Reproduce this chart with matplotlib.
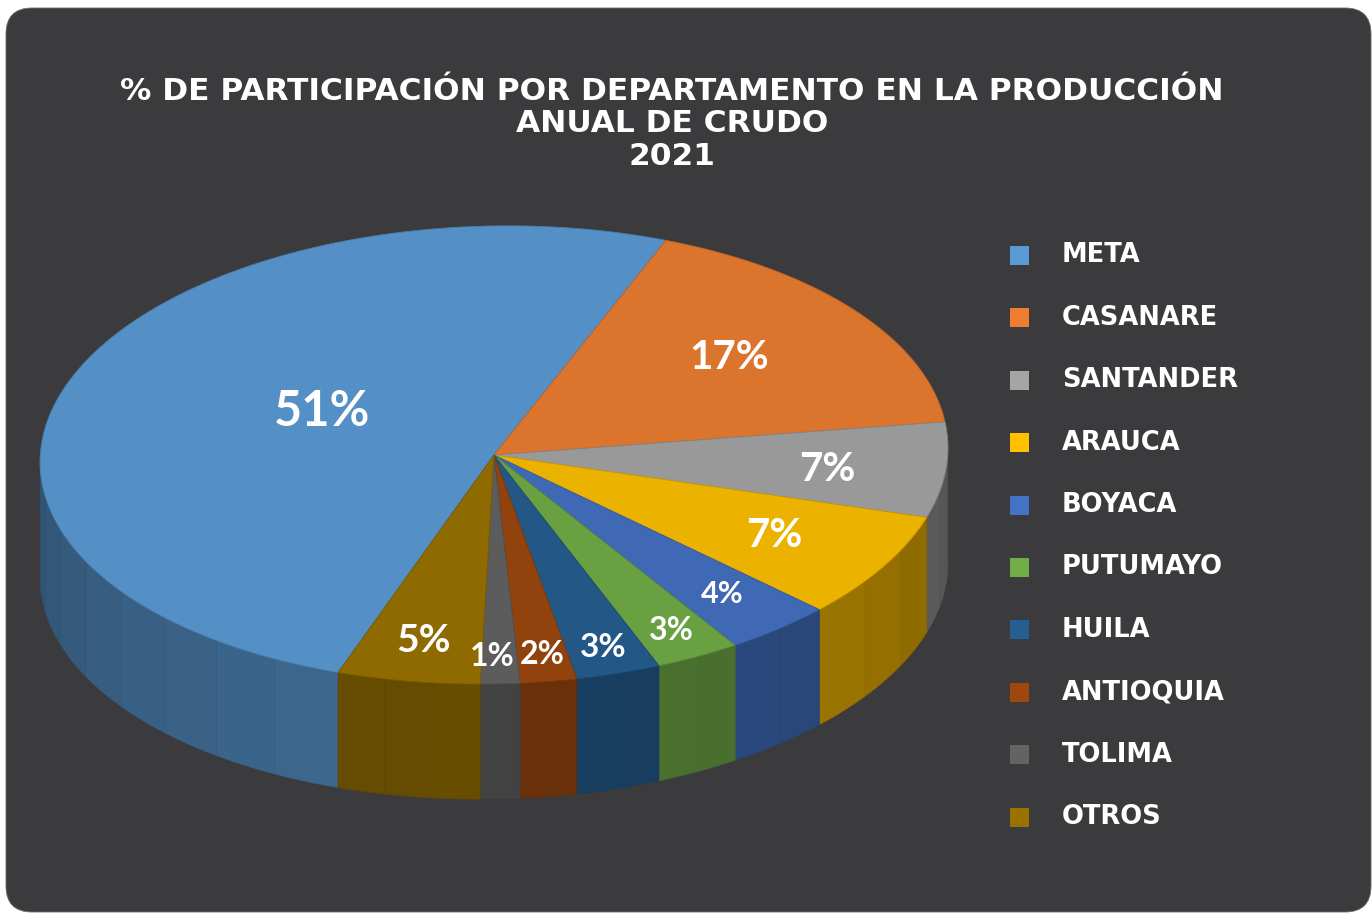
import numpy as np
import matplotlib.pyplot as plt
from matplotlib.patches import Polygon, FancyBboxPatch, Rectangle
from matplotlib.colors import to_rgb

# datos (participacion % por departamento, 2021)
departamentos = ["META", "CASANARE", "SANTANDER", "ARAUCA", "BOYACA",
                 "PUTUMAYO", "HUILA", "ANTIOQUIA", "TOLIMA", "OTROS"]
participacion = [50.6, 17.0, 6.7, 7.4, 3.8, 3.0, 3.0, 2.0, 1.4, 5.1]
colores = ["#5B9BD5", "#ED7D31", "#A5A5A5", "#FFC000", "#4472C4",
           "#70AD47", "#255E91", "#9E480E", "#636363", "#997300"]

titulo = "% DE PARTICIPACIÓN POR DEPARTAMENTO EN LA PRODUCCIÓN\nANUAL DE CRUDO\n2021"

# layout of the fake 3d pie (pixels)
cx, cy, rx, ry, depth = 494, 455, 454, 229, 115
tilt = np.radians(-1.2)
start = 249.3
label_r = [0.43, 0.66, 0.74, 0.72, 0.80, 0.87, 0.88, 0.88, 0.88, 0.82]
label_shift = [-7, 1, -1, 0, 0, 0, 0, 0, -1, 0]
label_size = [35, 29, 29, 29, 22, 23, 24, 23, 23, 28]  # cap height px
BG = "#3B3B3D"


def pt(t, dy=0.0, rf=1.0):
    r = np.radians(t)
    ex = rf * rx * np.cos(r)
    ey = -rf * ry * np.sin(r)
    x = ex * np.cos(tilt) - ey * np.sin(tilt)
    y = ex * np.sin(tilt) + ey * np.cos(tilt)
    return cx + x, cy + y + dy


def arc(t1, t2, dy=0.0, n=None):
    if n is None:
        n = max(int(abs(t1 - t2) * 2), 2)
    ts = np.linspace(t1, t2, n)
    return [pt(t, dy) for t in ts]


def shade(c, f):
    r, g, b = to_rgb(c)
    return (r * f, g * f, b * f)


def side_factor(t):
    return 0.56 + 0.16 * max(np.cos(np.radians(t + 95)), 0)


fig = plt.figure(figsize=(13.72, 9.13), dpi=100)
ax = fig.add_axes([0, 0, 1, 1])
ax.set_xlim(0, 1372)
ax.set_ylim(913, 0)
ax.axis("off")

ax.add_patch(FancyBboxPatch((6, 8), 1365, 904, boxstyle="round,pad=0,rounding_size=26",
                            fc=BG, ec="#6a6a6a", lw=0.6, zorder=0))

vals = np.array(participacion)
bounds = start - 3.6 * np.concatenate([[0], np.cumsum(vals)])

# side walls (only the front half is visible)
for i, col in enumerate(colores):
    ts, te = bounds[i], bounds[i + 1]
    for a, b in [(-181, 1), (179, 361)]:
        hi, lo = min(ts, b), max(te, a)
        if hi <= lo:
            continue
        nf = max(int(np.ceil((hi - lo) / 9.0)), 1)
        edges = np.linspace(hi, lo, nf + 1)
        for k in range(nf):
            t1, t2 = edges[k], edges[k + 1]
            f = side_factor((t1 + t2) / 2) * 0.925
            poly = arc(t1, t2) + arc(t2, t1, depth)
            fc = shade(col, f)
            ax.add_patch(Polygon(poly, closed=True, fc=fc, ec=shade(col, f * 0.96),
                                 lw=0.5, zorder=2))

# top face
for i, col in enumerate(colores):
    ts, te = bounds[i], bounds[i + 1]
    poly = [(cx, cy)] + arc(ts, te)
    ax.add_patch(Polygon(poly, closed=True, fc=shade(col, 0.925),
                         ec=shade(col, 0.8), lw=0.6, zorder=3))

# data labels
for i, v in enumerate(participacion):
    mid = (bounds[i] + bounds[i + 1]) / 2 + label_shift[i]
    x, y = pt(mid, rf=label_r[i])
    ax.text(x, y, f"{v:.0f}%", color="white", fontsize=label_size[i] * 1.0,
            family="Lato", fontweight="bold", ha="center", va="center", zorder=5)

# title
ax.text(672, 124, titulo, color="white", fontsize=22.5, family="DejaVu Sans",
        fontweight="bold", ha="center", va="center", multialignment="center",
        linespacing=1.15, zorder=5)

# legend
for i, (nom, col) in enumerate(zip(departamentos, colores)):
    yc = 255.5 + 62.4 * i
    ax.add_patch(Rectangle((1010, yc - 9.5), 19, 19, fc=col, ec="none", zorder=5))
    ax.text(1062, yc, nom, color="white", fontsize=18.5, family="DejaVu Sans",
            fontweight="bold", ha="left", va="center", zorder=5)

fig.savefig("out.png", dpi=100, facecolor="white")
